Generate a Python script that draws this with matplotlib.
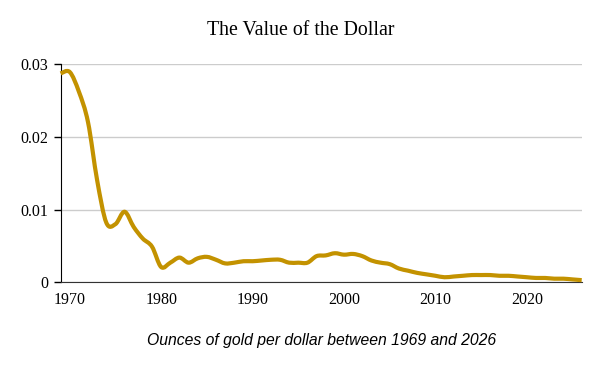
import numpy as np
import matplotlib
matplotlib.use('Agg')
import matplotlib.pyplot as plt
from matplotlib.path import Path
from matplotlib.patches import PathPatch

# ounces of gold per dollar
years = list(range(1969, 2027))
ounces = [0.0287, 0.0289, 0.0262, 0.0220, 0.0140, 0.0082, 0.0080, 0.0097,
          0.0076, 0.0060, 0.0049, 0.0021, 0.0027, 0.0034, 0.0027, 0.0033,
          0.0035, 0.0031, 0.0026, 0.0027, 0.0029, 0.0029, 0.0030, 0.0031,
          0.0031, 0.0027, 0.0027, 0.0027, 0.0036, 0.0037, 0.0040, 0.0038,
          0.0039, 0.0036, 0.0030, 0.0027, 0.0025, 0.0019, 0.0016, 0.0013,
          0.0011, 0.0009, 0.0007, 0.0008, 0.0009, 0.0010, 0.0010, 0.0010,
          0.0009, 0.0009, 0.0008, 0.0007, 0.0006, 0.0006, 0.0005, 0.0005,
          0.0004, 0.0003]

y_ticks = [0, 0.01, 0.02, 0.03]
y_labels = ['0', '0.01', '0.02', '0.03']
x_ticks = [1970, 1980, 1990, 2000, 2010, 2020]

gold = '#c39200'

fig = plt.figure(figsize=(6, 3.71), dpi=100)
ax = fig.add_axes([0.101, 0.239, 0.8685, 0.5885])

# smooth curve through the points (catmull-rom as bezier segments)
x = np.array(years, dtype=float)
y = np.array(ounces)
pts = np.column_stack([x, y])
verts = [pts[0]]
codes = [Path.MOVETO]
n = len(pts)
for i in range(n - 1):
    p0 = pts[max(i - 1, 0)]
    p1 = pts[i]
    p2 = pts[i + 1]
    p3 = pts[min(i + 2, n - 1)]
    c1 = p1 + (p2 - p0) / 6.0
    c2 = p2 - (p3 - p1) / 6.0
    verts += [c1, c2, p2]
    codes += [Path.CURVE4] * 3
patch = PathPatch(Path(verts, codes), facecolor='none', edgecolor=gold,
                  lw=3, capstyle='butt', joinstyle='round', zorder=3,
                  clip_on=False)
ax.add_patch(patch)

ax.set_xlim(1969, 2026)
ax.set_ylim(0, 0.03)
ax.set_yticks(y_ticks)
ax.set_yticklabels(y_labels)
ax.set_xticks(x_ticks)
ax.grid(axis='y', color='#cccccc', lw=1)
ax.set_axisbelow(True)

for s in ['top', 'right']:
    ax.spines[s].set_visible(False)
ax.spines['left'].set_color('black')
ax.spines['bottom'].set_color('#333333')
ax.tick_params(axis='y', length=5, width=1, color='black', pad=4)
ax.tick_params(axis='x', length=0, pad=7)
for lab in ax.get_xticklabels() + ax.get_yticklabels():
    lab.set_fontfamily('Liberation Serif')
    lab.set_fontsize(11.5)

fig.text(0.502, 0.917, 'The Value of the Dollar', ha='center', va='center',
         family='Liberation Serif', fontsize=14.3)
fig.text(0.536, 0.083, 'Ounces of gold per dollar between 1969 and 2026',
         ha='center', va='center', family='Liberation Sans', style='italic',
         fontsize=11.35)

fig.savefig('out.png', dpi=100)
